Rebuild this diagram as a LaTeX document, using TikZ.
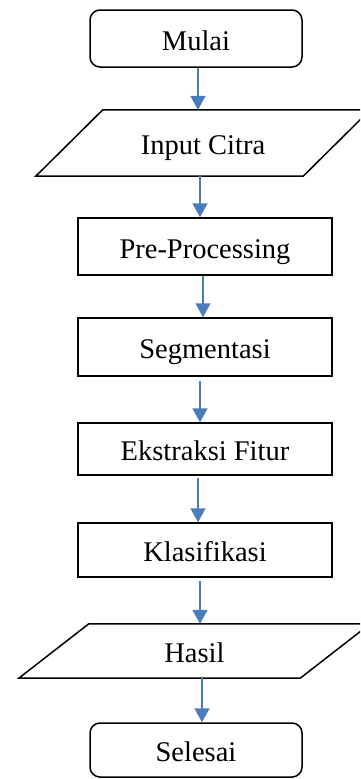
\documentclass[tikz,border=0pt]{standalone}
\usepackage{fontspec}
\setmainfont{Liberation Serif}
\usetikzlibrary{arrows.meta}
\definecolor{arrowblue}{RGB}{74,126,187}
\tikzset{
  txt/.style={inner sep=0pt, font=\fontsize{28.5}{34}\selectfont, text height=27pt, text depth=4pt},
  box/.style={txt, draw=black, line width=1.5pt, minimum width=254pt},
  term/.style={box, rounded corners=10pt, minimum width=212pt},
  iobox/.style={txt},
  ioline/.style={draw=black, line width=1.5pt},
  arr/.style={draw=arrowblue, line width=1.6pt, -{Triangle[width=15pt,length=14pt]}}
}
\begin{document}
\begin{tikzpicture}[x=1pt,y=-1pt]
\useasboundingbox (0,0) rectangle (360,779);
\clip (0,0) rectangle (360,779);
\fill[white] (0,0) rectangle (360,779);

\node[term, minimum height=57pt] (mulai) at (196,38.5) {Mulai};
\node[iobox, minimum width=334pt, minimum height=66pt] (input) at (203,143) {Input Citra};
\draw[ioline] ([xshift=67pt]input.north west) -- (input.north east) -- ([xshift=-67pt]input.south east) -- (input.south west) -- cycle;
\node[box, minimum height=57pt] (pre) at (205,246.5) {Pre-Processing};
\node[box, minimum height=58pt] (seg) at (205,347) {Segmentasi};
\node[box, minimum height=52pt] (ekstr) at (205,449) {Ekstraksi Fitur};
\node[box, minimum height=54pt] (klas) at (205,550) {Klasifikasi};
\node[iobox, minimum width=351pt, minimum height=54pt] (hasil) at (194.5,651) {Hasil};
\draw[ioline] ([xshift=70pt]hasil.north west) -- (hasil.north east) -- ([xshift=-70pt]hasil.south east) -- (hasil.south west) -- cycle;
\node[term, minimum height=54pt] (selesai) at (196,750) {Selesai};

\draw[arr] ([xshift=2pt]mulai.south) -- ([xshift=-5pt]input.north);
\draw[arr] ([xshift=-3pt]input.south) -- ([xshift=-5pt]pre.north);
\draw[arr] ([xshift=-2pt]pre.south) -- ([xshift=-2pt]seg.north);
\draw[arr] ([xshift=-5pt,yshift=-4pt]seg.south) -- ([xshift=-5pt]ekstr.north);
\draw[arr] ([xshift=-7pt,yshift=-2pt]ekstr.south) -- ([xshift=-7pt]klas.north);
\draw[arr] ([xshift=-5pt,yshift=-3pt]klas.south) -- ([xshift=5.5pt]hasil.north);
\draw[arr] ([xshift=7.5pt]hasil.south) -- ([xshift=6pt]selesai.north);
\end{tikzpicture}
\end{document}
